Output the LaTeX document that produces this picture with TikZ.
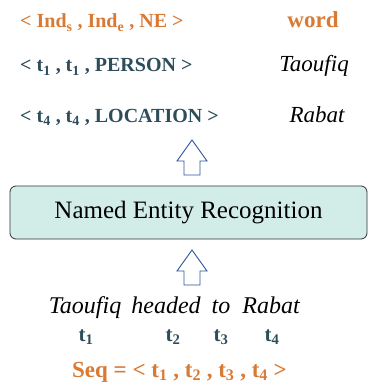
\documentclass[tikz,border=0pt]{standalone}
\usepackage{fontspec}
\setmainfont{Liberation Serif}
\usetikzlibrary{calc}
\definecolor{nerorange}{HTML}{D97A34}
\definecolor{nerteal}{HTML}{2E4D5B}
\definecolor{nerfill}{HTML}{D2EDE8}
\definecolor{nerblue}{HTML}{2F5597}
\newcommand{\hollowup}[2] % tail, tip (named coordinates)
{
	% head
	\draw[hollow] (#2) -- ($(#2)+(15,21)$) -- ($(#2)+(8,21)$)
	% shaft
	-- ($(#1)+(8,0)$) -- ($(#1)+(-8,0)$) -- ($(#2)+(-8,21)$) -- ($(#2)+(-15,21)$) -- cycle;
}
\newcommand{\tok}[1]{t\textsubscript{#1}}

\begin{document}
\begin{tikzpicture}[x=1pt, y=-1pt,
	hollow/.style={draw=nerblue, line width=0.9pt, fill=white, line join=miter},
	tuple/.style={anchor=base west, inner sep=0pt, font=\fontsize{20}{24}\selectfont\bfseries},
	word/.style={anchor=base, inner sep=0pt, font=\fontsize{23}{27}\selectfont\itshape},
	tokn/.style={anchor=base, inner sep=0pt, text=nerteal, font=\fontsize{21}{25}\selectfont\bfseries},
	nerbox/.style={draw=black!80, line width=0.8pt, fill=nerfill, rounded corners=6pt, minimum width=357pt, minimum height=53pt, font=\fontsize{25}{30}\selectfont}]
	\useasboundingbox (0,0) rectangle (368,385);

	% output: tuples and words
	\node[tuple, text=nerorange] (head) at (20,28) {< Ind\textsubscript{s} , Ind\textsubscript{e} , NE >};
	\node[tuple, text=nerorange, anchor=base] (headw) at (313,28) {\fontsize{23}{27}\selectfont word};
	\node[tuple, text=nerteal] (per) at (20,72) {< \tok{1} , \tok{1} , PERSON >};
	\node[word] (perw) at (314,72) {Taoufiq};
	\node[tuple, text=nerteal] (loc) at (20,122) {< \tok{4} , \tok{4} , LOCATION >};
	\node[word] (locw) at (317,122) {Rabat};

	% model
	\node[nerbox] (ner) at (188.5,212.5) {Named Entity Recognition};

	% input sentence
	\node[word, font=\fontsize{24}{28}\selectfont\itshape] (w1) at (85,313) {Taoufiq};
	\node[word, font=\fontsize{24}{28}\selectfont\itshape] (w2) at (166,313) {headed};
	\node[word, font=\fontsize{24}{28}\selectfont\itshape] (w3) at (221,313) {to};
	\node[word, font=\fontsize{24}{28}\selectfont\itshape] (w4) at (271,313) {Rabat};

	\node[tokn] (t1) at (86,341) {\tok{1}};
	\node[tokn] (t2) at (173,341) {\tok{2}};
	\node[tokn] (t3) at (221,341) {\tok{3}};
	\node[tokn] (t4) at (272,341) {\tok{4}};

	\node[tuple, text=nerorange, anchor=base, font=\fontsize{23}{27}\selectfont\bfseries] (seq) at (179.5,377) {Seq = < \tok{1} , \tok{2} , \tok{3} , \tok{4} >};

	% arrows
	\coordinate (a1tip) at (192,140);
	\coordinate (a1tail) at (192,175);
	\coordinate (a2tip) at (192,250);
	\coordinate (a2tail) at (192,285);
	\hollowup{a1tail}{a1tip};
	\hollowup{a2tail}{a2tip};
\end{tikzpicture}
\end{document}
